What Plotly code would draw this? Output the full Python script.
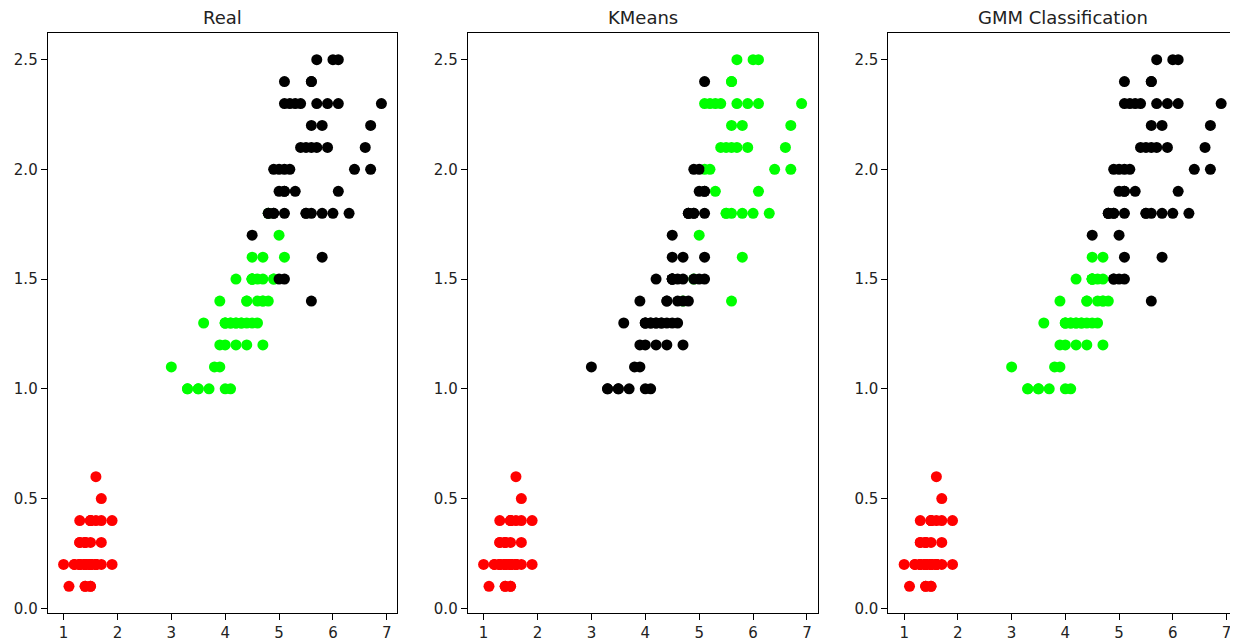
import plotly.graph_objects as go

# Iris petal length / petal width (150 samples)
petal_length = [
    1.4, 1.4, 1.3, 1.5, 1.4, 1.7, 1.4, 1.5, 1.4, 1.5, 1.5, 1.6, 1.4, 1.1, 1.2, 1.5, 1.3, 1.4, 1.7, 1.5,
    1.7, 1.5, 1.0, 1.7, 1.9, 1.6, 1.6, 1.5, 1.4, 1.6, 1.6, 1.5, 1.5, 1.4, 1.5, 1.2, 1.3, 1.4, 1.3, 1.5,
    1.3, 1.3, 1.3, 1.6, 1.9, 1.4, 1.6, 1.4, 1.5, 1.4,
    4.7, 4.5, 4.9, 4.0, 4.6, 4.5, 4.7, 3.3, 4.6, 3.9, 3.5, 4.2, 4.0, 4.7, 3.6, 4.4, 4.5, 4.1, 4.5, 3.9,
    4.8, 4.0, 4.9, 4.7, 4.3, 4.4, 4.8, 5.0, 4.5, 3.5, 3.8, 3.7, 3.9, 5.1, 4.5, 4.5, 4.7, 4.4, 4.1, 4.0,
    4.4, 4.6, 4.0, 3.3, 4.2, 4.2, 4.2, 4.3, 3.0, 4.1,
    6.0, 5.1, 5.9, 5.6, 5.8, 6.6, 4.5, 6.3, 5.8, 6.1, 5.1, 5.3, 5.5, 5.0, 5.1, 5.3, 5.5, 6.7, 6.9, 5.0,
    5.7, 4.9, 6.7, 4.9, 5.7, 6.0, 4.8, 4.9, 5.6, 5.8, 6.1, 6.4, 5.6, 5.1, 5.6, 6.1, 5.6, 5.5, 4.8, 5.4,
    5.6, 5.1, 5.1, 5.9, 5.7, 5.2, 5.0, 5.2, 5.4, 5.1,
]
petal_width = [
    0.2, 0.2, 0.2, 0.2, 0.2, 0.4, 0.3, 0.2, 0.2, 0.1, 0.2, 0.2, 0.1, 0.1, 0.2, 0.4, 0.4, 0.3, 0.3, 0.3,
    0.2, 0.4, 0.2, 0.5, 0.2, 0.2, 0.4, 0.2, 0.2, 0.2, 0.2, 0.4, 0.1, 0.2, 0.2, 0.2, 0.2, 0.1, 0.2, 0.2,
    0.3, 0.3, 0.2, 0.6, 0.4, 0.3, 0.2, 0.2, 0.2, 0.2,
    1.4, 1.5, 1.5, 1.3, 1.5, 1.3, 1.6, 1.0, 1.3, 1.4, 1.0, 1.5, 1.0, 1.4, 1.3, 1.4, 1.5, 1.0, 1.5, 1.1,
    1.8, 1.3, 1.5, 1.2, 1.3, 1.4, 1.4, 1.7, 1.5, 1.0, 1.1, 1.0, 1.2, 1.6, 1.5, 1.6, 1.5, 1.3, 1.3, 1.3,
    1.2, 1.4, 1.2, 1.0, 1.3, 1.2, 1.3, 1.3, 1.1, 1.3,
    2.5, 1.9, 2.1, 1.8, 2.2, 2.1, 1.7, 1.8, 1.8, 2.5, 2.0, 1.9, 2.1, 2.0, 2.4, 2.3, 1.8, 2.2, 2.3, 1.5,
    2.3, 2.0, 2.0, 1.8, 2.1, 1.8, 1.8, 1.8, 2.1, 1.6, 1.9, 2.0, 2.2, 1.5, 1.4, 2.3, 2.4, 1.8, 1.8, 2.1,
    2.4, 2.3, 1.9, 2.3, 2.5, 2.3, 1.9, 2.0, 2.3, 1.8,
]

# colour index per sample: 0 = red, 1 = lime, 2 = black
real_labels = [
    0, 0, 0, 0, 0, 0, 0, 0, 0, 0, 0, 0, 0, 0, 0, 0, 0, 0, 0, 0, 0, 0, 0, 0, 0,
    0, 0, 0, 0, 0, 0, 0, 0, 0, 0, 0, 0, 0, 0, 0, 0, 0, 0, 0, 0, 0, 0, 0, 0, 0,
    1, 1, 1, 1, 1, 1, 1, 1, 1, 1, 1, 1, 1, 1, 1, 1, 1, 1, 1, 1, 1, 1, 1, 1, 1,
    1, 1, 1, 1, 1, 1, 1, 1, 1, 1, 1, 1, 1, 1, 1, 1, 1, 1, 1, 1, 1, 1, 1, 1, 1,
    2, 2, 2, 2, 2, 2, 2, 2, 2, 2, 2, 2, 2, 2, 2, 2, 2, 2, 2, 2, 2, 2, 2, 2, 2,
    2, 2, 2, 2, 2, 2, 2, 2, 2, 2, 2, 2, 2, 2, 2, 2, 2, 2, 2, 2, 2, 2, 2, 2, 2,
]
kmeans_labels = [
    0, 0, 0, 0, 0, 0, 0, 0, 0, 0, 0, 0, 0, 0, 0, 0, 0, 0, 0, 0, 0, 0, 0, 0, 0,
    0, 0, 0, 0, 0, 0, 0, 0, 0, 0, 0, 0, 0, 0, 0, 0, 0, 0, 0, 0, 0, 0, 0, 0, 0,
    1, 2, 1, 2, 2, 2, 2, 2, 2, 2, 2, 2, 2, 2, 2, 2, 2, 2, 2, 2, 2, 2, 2, 2, 2,
    2, 2, 1, 2, 2, 2, 2, 2, 2, 2, 2, 2, 2, 2, 2, 2, 2, 2, 2, 2, 2, 2, 2, 2, 2,
    1, 2, 1, 1, 1, 1, 2, 1, 1, 1, 1, 1, 1, 2, 2, 1, 1, 1, 1, 2, 1, 2, 1, 2, 1,
    1, 2, 2, 1, 1, 1, 1, 1, 2, 1, 1, 1, 1, 2, 1, 1, 1, 2, 1, 1, 1, 2, 1, 1, 2,
]
gmm_labels = [
    0, 0, 0, 0, 0, 0, 0, 0, 0, 0, 0, 0, 0, 0, 0, 0, 0, 0, 0, 0, 0, 0, 0, 0, 0,
    0, 0, 0, 0, 0, 0, 0, 0, 0, 0, 0, 0, 0, 0, 0, 0, 0, 0, 0, 0, 0, 0, 0, 0, 0,
    1, 1, 2, 1, 1, 1, 1, 1, 1, 1, 1, 1, 1, 1, 1, 1, 1, 1, 1, 1, 2, 1, 2, 1, 1,
    1, 1, 2, 1, 1, 1, 1, 1, 2, 1, 1, 1, 1, 1, 1, 1, 1, 1, 1, 1, 1, 1, 1, 1, 1,
    2, 2, 2, 2, 2, 2, 2, 2, 2, 2, 2, 2, 2, 2, 2, 2, 2, 2, 2, 2, 2, 2, 2, 2, 2,
    2, 2, 2, 2, 2, 2, 2, 2, 2, 2, 2, 2, 2, 2, 2, 2, 2, 2, 2, 2, 2, 2, 2, 2, 2,
]

panel_titles = ["Real", "KMeans", "GMM Classification"]
panel_labels = [real_labels, kmeans_labels, gmm_labels]
palette = ["#ff0000", "#00ff00", "#000000"]
x_ticks = [1, 2, 3, 4, 5, 6, 7]
y_ticks = [0.0, 0.5, 1.0, 1.5, 2.0, 2.5]

# page body has an 8px margin, so the figure is drawn from (8, 8)
OFF = 8
W, H = 1238 - OFF, 641 - OFF
x_domains_px = [(47.7, 397.3), (467.7, 817.5), (888.3, 1237.0)]
y_domain = [1 - (612.7 - OFF) / H, 1 - (33.3 - OFF) / H]

fig = go.Figure()
font = "DejaVu Sans, Liberation Sans, sans-serif"
axis_common = dict(
    showline=True, linecolor="#000000", linewidth=1, mirror=True,
    showgrid=False, zeroline=False, ticks="outside", ticklen=6, tickwidth=1,
    tickcolor="#000000", tickfont=dict(family=font, size=15, color="#222222"),
    automargin=False,
)

for i, (title, labels) in enumerate(zip(panel_titles, panel_labels)):
    n = i + 1
    xa = "x" if n == 1 else f"x{n}"
    ya = "y" if n == 1 else f"y{n}"
    fig.add_trace(go.Scatter(
        x=petal_length, y=petal_width, mode="markers",
        marker=dict(size=11, color=[palette[l] for l in labels], line=dict(width=0)),
        xaxis=xa, yaxis=ya, showlegend=False, hoverinfo="x+y",
    ))
    d0, d1 = x_domains_px[i]
    fig.update_layout(**{
        ("xaxis" if n == 1 else f"xaxis{n}"): dict(
            domain=[(d0 - OFF) / W, min(1.0, (d1 - OFF) / W)], anchor=ya, range=[0.705, 7.195],
            tickvals=x_ticks, ticktext=[str(v) for v in x_ticks], **axis_common),
        ("yaxis" if n == 1 else f"yaxis{n}"): dict(
            domain=y_domain, anchor=xa, range=[-0.02, 2.62],
            tickvals=y_ticks, ticktext=[f"{v:.1f}" for v in y_ticks], **axis_common),
    })
    fig.add_annotation(
        text=title, xref=f"{xa} domain", yref=f"{ya} domain", x=0.5, y=1,
        xanchor="center", yanchor="bottom", yshift=3, showarrow=False,
        font=dict(family=font, size=18, color="#222222"),
    )

fig.update_layout(
    width=W, height=H, margin=dict(l=0, r=0, t=0, b=0),
    paper_bgcolor="white", plot_bgcolor="white",
)

fig.write_html("out.html")
